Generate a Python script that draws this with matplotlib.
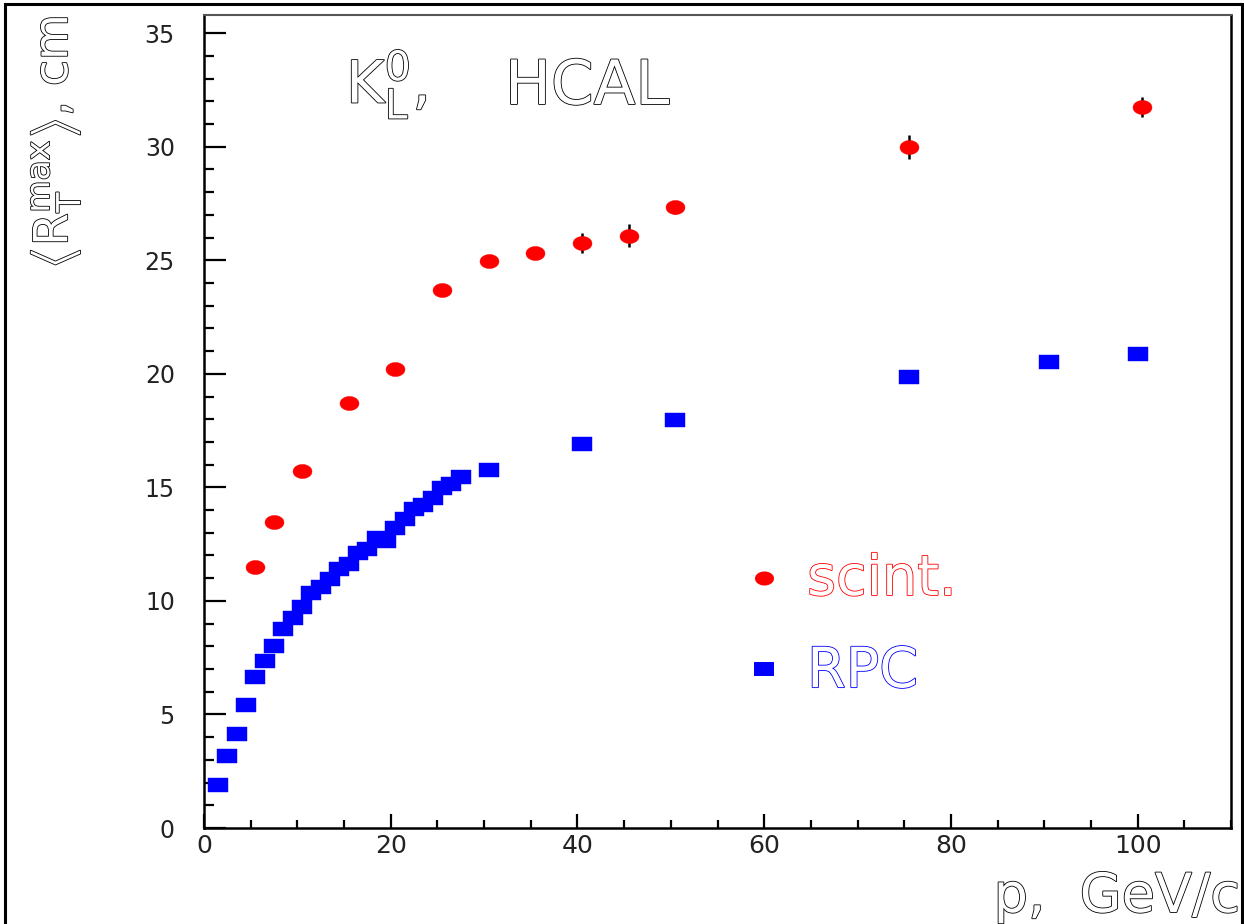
import numpy as np
import matplotlib
matplotlib.use("Agg")
import matplotlib.pyplot as plt
import matplotlib.patheffects as pe
from matplotlib.path import Path
from matplotlib.patches import Rectangle
from matplotlib.ticker import MultipleLocator

# scintillator HCAL, <R_T^max> vs momentum
p_scint = [5.5, 7.5, 10.5, 15.5, 20.5, 25.5, 30.5, 35.5, 40.5, 45.5, 50.5, 75.5, 100.5]
r_scint = [11.48, 13.47, 15.72, 18.71, 20.23, 23.69, 24.96, 25.33, 25.77, 26.08, 27.33, 30.0, 31.75]
err_scint = [0.2, 0.2, 0.2, 0.2, 0.2, 0.25, 0.25, 0.25, 0.45, 0.5, 0.3, 0.53, 0.43]

# RPC HCAL
p_rpc = [1.5, 2.5, 3.5, 4.5, 5.5, 6.5, 7.5, 8.5, 9.5, 10.5, 11.5, 12.5, 13.5, 14.5,
         15.5, 16.5, 17.5, 18.5, 19.5, 20.5, 21.5, 22.5, 23.5, 24.5, 25.5, 26.5, 27.5,
         30.5, 40.5, 50.5, 75.5, 90.5, 100.0]
r_rpc = [1.91, 3.17, 4.14, 5.42, 6.65, 7.34, 8.01, 8.75, 9.23, 9.75, 10.35, 10.6, 10.96, 11.42,
         11.64, 12.11, 12.29, 12.75, 12.65, 13.2, 13.61, 14.03, 14.22, 14.52, 14.98, 15.16, 15.46,
         15.76, 16.92, 17.95, 19.85, 20.51, 20.86]

W, H = 1244, 924


def fig_xy(x, y):
    # pixel position -> figure fraction
    return x / W, 1 - y / H


# squashed markers like the original plot (wider than tall)
t = np.linspace(0, 2 * np.pi, 60)
ellipse = Path(np.column_stack([np.cos(t), 0.74 * np.sin(t)]), closed=True)
rect = Path([(-1, -0.74), (1, -0.74), (1, 0.74), (-1, 0.74), (-1, -0.74)], closed=True)

fig = plt.figure(figsize=(W / 100, H / 100), dpi=100)
ax = fig.add_axes([204 / W, 1 - 828 / H, (1231 - 204) / W, (828 - 15) / H])

ax.errorbar(p_scint, r_scint, yerr=err_scint, fmt="none", ecolor="black",
            elinewidth=1.8, capsize=0, zorder=2)
ax.plot(p_scint, r_scint, ls="none", marker=ellipse, ms=13.7, color="#ff0000",
        mec="#ff0000", mew=0.3, zorder=3)
ax.plot(p_rpc, r_rpc, ls="none", marker=rect, ms=13.7, color="#0000ff",
        mec="#0000ff", mew=0.3, zorder=3)

ax.set_xlim(0, 110)
ax.set_ylim(0, 35.8)
ax.set_xticks([0, 20, 40, 60, 80, 100])
ax.set_yticks([0, 5, 10, 15, 20, 25, 30, 35])
ax.xaxis.set_minor_locator(MultipleLocator(5))
ax.yaxis.set_minor_locator(MultipleLocator(1))
ax.tick_params(axis="x", which="major", direction="in", length=10, width=1.6,
               pad=4, labelsize=18, labelcolor="#222222", top=False)
ax.tick_params(axis="x", which="minor", direction="in", length=5.8, width=1.6, top=False)
ax.tick_params(axis="y", which="major", direction="in", length=16, width=1.6,
               pad=21, labelsize=17, labelcolor="#222222", right=False)
ax.tick_params(axis="y", which="minor", direction="in", length=7.5, width=1.6, right=False)
for side in ["left", "bottom", "right"]:
    ax.spines[side].set_linewidth(1.8)
ax.spines["top"].set_linewidth(1.5)
ax.spines["top"].set_color("#555555")


def hollow(color, lw=1.2):
    return [pe.withStroke(linewidth=lw, foreground=color)]


# legend drawn by hand, like the original
ax.plot([60], [11], ls="none", marker=ellipse, ms=13.7, color="#ff0000", mew=0)
ax.plot([60], [7], ls="none", marker=rect, ms=13.7, color="#0000ff", mew=0)
ax.text(64.6, 10.26, "scint.", color="white", fontsize=40, va="baseline",
        path_effects=hollow("#ff0000"))
ax.text(64.6, 6.2, "RPC", color="white", fontsize=40, va="baseline",
        path_effects=hollow("#0000ff"))

# title
x0, y0 = fig_xy(346, 103)
fig.text(x0, y0, r"$\mathregular{K^{0}_{L}}$,", color="white", fontsize=42,
         va="baseline", path_effects=hollow("black"))
x0, y0 = fig_xy(505, 104)
fig.text(x0, y0, "HCAL", color="white", fontsize=44, va="baseline",
         path_effects=hollow("black"))

# axis titles
x0, y0 = fig_xy(1240, 912)
fig.text(x0, y0, "p,  GeV/c", color="white", fontsize=39, ha="right", va="baseline",
         path_effects=hollow("black"))
x0, y0 = fig_xy(55, 143)
fig.text(x0, y0, r"$\left\langle\mathregular{R^{max}_{T}}\right\rangle$, cm",
         color="white", fontsize=34, rotation=90, ha="center", va="center",
         path_effects=hollow("black"))

# outer frame
fig.patches.append(Rectangle((5 / W, -0.02), (1242 - 5) / W, 1.02 - 4 / H,
                             transform=fig.transFigure, fill=False,
                             edgecolor="black", linewidth=2.2))

fig.savefig("out.png", dpi=100)
